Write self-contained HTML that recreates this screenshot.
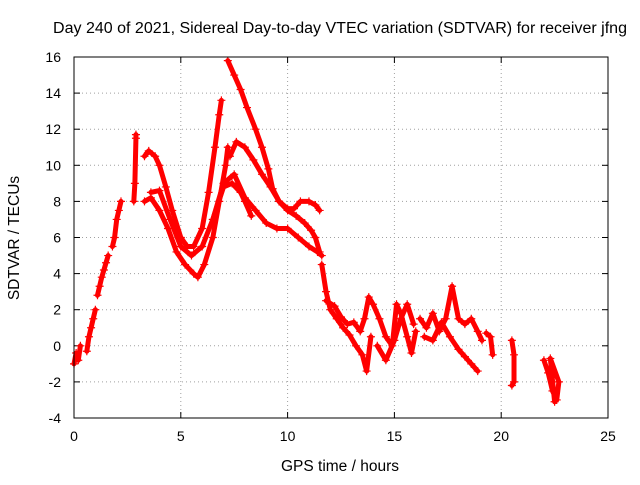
<!DOCTYPE html>
<html><head><meta charset="utf-8"><style>
body{margin:0;background:#fff;width:640px;height:480px;overflow:hidden}
text{font-family:"Liberation Sans",sans-serif;fill:#000}
</style></head><body>
<svg id="chart" width="640" height="480">
<text x="340" y="33" font-size="15.5" text-anchor="middle" textLength="574" lengthAdjust="spacingAndGlyphs">Day 240 of 2021, Sidereal Day-to-day VTEC variation (SDTVAR) for receiver jfng</text>
<text x="340" y="471" font-size="15.5" text-anchor="middle">GPS time / hours</text>
<text transform="translate(19,238) rotate(-90)" font-size="15.5" text-anchor="middle">SDTVAR / TECUs</text>
<g id="grid"></g><g id="ticks"></g><g id="marks"></g>
<rect x="74" y="57" width="534" height="361" fill="none" stroke="#000" stroke-width="1"/>
</svg>
<script>
const xTicks=[0,5,10,15,20,25];
const yTicks=[-4,-2,0,2,4,6,8,10,12,14,16];
const s1h=[0,0.1,0.2,0.3];const s1v=[-1,-0.4,-0.8,0];
const s2h=[0.6,0.7,0.8,0.9,1.0];const s2v=[-0.3,0.5,1,1.5,2];
const s3h=[1.1,1.2,1.3,1.4,1.5,1.6];const s3v=[2.8,3.3,3.8,4.2,4.6,5];
const s4h=[1.8,1.9,2.0,2.1,2.2];const s4v=[5.5,6,7,7.5,8];
const s5h=[2.8,2.85,2.9,2.9];const s5v=[8,9,11.5,11.7];
const s6h=[3.3,3.5,3.8,4.0,4.3,4.6,5.0,5.3,5.6,6.0,6.3,6.6,6.8,6.9];const s6v=[10.5,10.8,10.5,10,8.8,7.5,6,5.5,5.5,6.5,8.5,11,12.8,13.6];
const s7h=[3.3,3.6,4.0,4.4,4.8,5.2,5.6,5.8,6.1,6.5,6.8,7.1,7.2];const s7v=[8,8.2,7.5,6.5,5.2,4.5,4,3.8,4.5,6,8,10,11];
const s8h=[3.6,4.0,4.5,5.0,5.5,6.0,6.5,7.0,7.4,7.8,8.0,8.3];const s8v=[8.5,8.6,7,5.5,5,5.5,7,8.8,9,8.5,8,7.2];
const s9h=[7.2,7.5,7.8,8.1,8.5,8.8,9.1,9.3,9.6,10.0,10.3,10.6,11.0,11.3,11.5];const s9v=[15.8,15,14.2,13.2,12,11,9.8,8.7,8,7.6,7.6,8,8,7.8,7.5];
const s10h=[7.3,7.6,8.0,8.4,8.8,9.2,9.6,10.0,10.4,10.8,11.1,11.3,11.5];const s10v=[10.5,11.3,11,10.3,9.5,8.8,8,7.5,7.2,6.8,6.4,6,5.2];
const s11h=[6.5,7.0,7.5,8.0,8.5,9.0,9.5,10.0,10.5,11.0,11.4,11.6];const s11v=[7,9,9.5,8.2,7.5,6.8,6.5,6.5,6,5.5,5.2,5];
const s12h=[11.6,11.8,12.0,12.3,12.6,12.9,13.2,13.5,13.7,13.9];const s12v=[4.5,3,2,1.5,1,0.6,0,-0.5,-1.4,0.5];
const s13h=[11.8,12.2,12.5,12.8,13.1,13.4,13.6,13.8,14.0,14.3,14.6,14.9,15.1,15.3,15.6,15.8,16.0];const s13v=[2.5,2.2,1.6,1.2,1.3,0.8,1.5,2.7,2.3,1.5,0.5,0,2.3,1.8,0.5,-0.4,0.8];
const s14h=[14.2,14.6,15.0,15.3,15.6,15.9];const s14v=[0,-0.8,0.3,1.5,2.3,1.2];
const s15h=[16.2,16.5,16.8,17.1,17.4,17.7,18.0,18.3,18.6,18.9,19.1];const s15v=[1.5,1,1.8,0.8,1.5,3.3,1.5,1.2,1.5,0.8,0.3];
const s16h=[16.4,16.8,17.2,17.6,18.0,18.3,18.6,18.9];const s16v=[0.5,0.3,1.3,0.5,-0.2,-0.6,-1,-1.4];
const s17h=[19.3,19.5,19.6];const s17v=[0.7,0.5,-0.5];
const s18h=[20.5,20.6,20.6,20.5];const s18v=[0.3,-0.5,-2,-2.2];
const s19h=[22.0,22.2,22.4,22.6,22.7,22.3,22.5];const s19v=[-0.8,-1.5,-2.5,-3,-2,-0.7,-3.1];
const seriesH=[s1h,s2h,s3h,s4h,s5h,s6h,s7h,s8h,s9h,s10h,s11h,s12h,s13h,s14h,s15h,s16h,s17h,s18h,s19h];
const seriesV=[s1v,s2v,s3v,s4v,s5v,s6v,s7v,s8v,s9v,s10v,s11v,s12v,s13v,s14v,s15v,s16v,s17v,s18v,s19v];
const L=74,R=608,T=57,B=418;
const xs=h=>L+(h-0)/25*(R-L);
const ys=v=>B-(v+4)/20*(B-T);
const NS="http://www.w3.org/2000/svg";
const g=document.getElementById('grid'),tk=document.getElementById('ticks'),mk=document.getElementById('marks');
function mkEl(t,a,p){const e=document.createElementNS(NS,t);for(const k in a)e.setAttribute(k,a[k]);p.appendChild(e);return e;}
xTicks.forEach(t=>{const x=xs(t);
 if(t>0&&t<25){const l=mkEl('line',{x1:x,x2:x,y1:T,y2:B,stroke:'#a0a0a0','stroke-dasharray':'1,3'},g);
 
 }
 mkEl('line',{x1:x,x2:x,y1:B,y2:B-6,stroke:'#000'},tk);mkEl('line',{x1:x,x2:x,y1:T,y2:T+6,stroke:'#000'},tk);
 const tx=mkEl('text',{x:x,y:B+23,'font-size':14,'text-anchor':'middle'},tk);tx.textContent=t;
 
 });
yTicks.forEach(t=>{const y=ys(t);
 if(t>-4&&t<16){const l=mkEl('line',{x1:L,x2:R,y1:y,y2:y,stroke:'#a0a0a0','stroke-dasharray':'1,3'},g);
 
 }
 mkEl('line',{x1:L,x2:L+6,y1:y,y2:y,stroke:'#000'},tk);mkEl('line',{x1:R,x2:R-6,y1:y,y2:y,stroke:'#000'},tk);
 const tx=mkEl('text',{x:L-13,y:y+5,'font-size':14,'text-anchor':'end'},tk);tx.textContent=t;
 
 });
seriesH.forEach((hs,i)=>{const vs=seriesV[i];
 const pts=hs.map((h,j)=>xs(h)+','+ys(vs[j])).join(' ');
 const pl=mkEl('polyline',{points:pts,fill:'none',stroke:'#f00','stroke-width':5,'stroke-linejoin':'round','stroke-linecap':'round'},mk);
 
 
 hs.forEach((h,j)=>{const x=xs(h),y=ys(vs[j]);
  const p=mkEl('path',{d:`M${x-4},${y}H${x+4}M${x},${y-4}V${y+4}`,stroke:'#f00','stroke-width':1.2},mk);
  
  });});
</script>
</body></html>
